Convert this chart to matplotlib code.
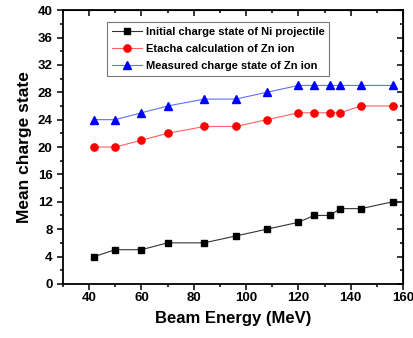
import matplotlib
matplotlib.use('Agg')
import matplotlib.pyplot as plt
from matplotlib.ticker import MultipleLocator

plt.rcParams['font.family'] = ['Liberation Sans', 'DejaVu Sans']
plt.rcParams['font.weight'] = 'bold'

# beam energies (MeV)
energy = [42, 50, 60, 70, 84, 96, 108, 120, 126, 132, 136, 144, 156]
ni_initial = [4, 5, 5, 6, 6, 7, 8, 9, 10, 10, 11, 11, 12]
zn_etacha = [20, 20, 21, 22, 23, 23, 24, 25, 25, 25, 25, 26, 26]
zn_measured = [24, 24, 25, 26, 27, 27, 28, 29, 29, 29, 29, 29, 29]

fig = plt.figure(figsize=(4.13, 3.38), dpi=100)
ax = fig.add_axes([0.1525, 0.160, 0.8233, 0.810])

ax.plot(energy, ni_initial, color='#333333', lw=0.8, marker='s', ms=4.6,
        mfc='black', mec='black', label='Initial charge state of Ni projectile')
ax.plot(energy, zn_etacha, color='#ff6060', lw=0.8, marker='o', ms=5.2,
        mfc='red', mec='red', label='Etacha calculation of Zn ion')
ax.plot(energy, zn_measured, color='#6070ff', lw=0.8, marker='^', ms=5.4,
        mfc='blue', mec='blue', label='Measured charge state of Zn ion')

ax.set_xlim(30, 160)
ax.set_ylim(0, 40)
ax.xaxis.set_major_locator(MultipleLocator(20))
ax.xaxis.set_minor_locator(MultipleLocator(10))
ax.yaxis.set_major_locator(MultipleLocator(4))
ax.yaxis.set_minor_locator(MultipleLocator(2))

for s in ax.spines.values():
    s.set_linewidth(1.3)

ax.tick_params(which='both', direction='out', top=False, right=False,
               width=1.1, labelsize=9.5)
ax.tick_params(which='major', length=4)
ax.tick_params(which='minor', length=2.5)
ax.tick_params(axis='x', pad=1.5)

# mirror ticks on top/right pointing inward
ax_t = ax.secondary_xaxis('top')
ax_t.xaxis.set_major_locator(MultipleLocator(20))
ax_t.xaxis.set_minor_locator(MultipleLocator(10))
ax_t.tick_params(which='both', direction='in', labeltop=False, width=1.1)
ax_t.tick_params(which='major', length=4)
ax_t.tick_params(which='minor', length=2.5)
ax_r = ax.secondary_yaxis('right')
ax_r.yaxis.set_major_locator(MultipleLocator(4))
ax_r.yaxis.set_minor_locator(MultipleLocator(2))
ax_r.tick_params(which='both', direction='in', labelright=False, width=1.1)
ax_r.tick_params(which='major', length=4)
ax_r.tick_params(which='minor', length=2.5)

for lbl in ax.get_xticklabels() + ax.get_yticklabels():
    lbl.set_fontweight('bold')

ax.set_xlabel('Beam Energy (MeV)', fontsize=12, fontweight='bold', labelpad=5)
ax.set_ylabel('Mean charge state', fontsize=12.5, fontweight='bold', labelpad=4)

leg = ax.legend(loc='upper left', bbox_to_anchor=(0.129, 0.956), fontsize=8,
                frameon=True, fancybox=False, edgecolor='#555555',
                handlelength=2.7, borderpad=0.45, labelspacing=0.6,
                handletextpad=0.35, borderaxespad=0)
leg.get_frame().set_linewidth(0.8)
for t in leg.get_texts():
    t.set_fontweight('bold')

fig.savefig('out.png', dpi=100)
